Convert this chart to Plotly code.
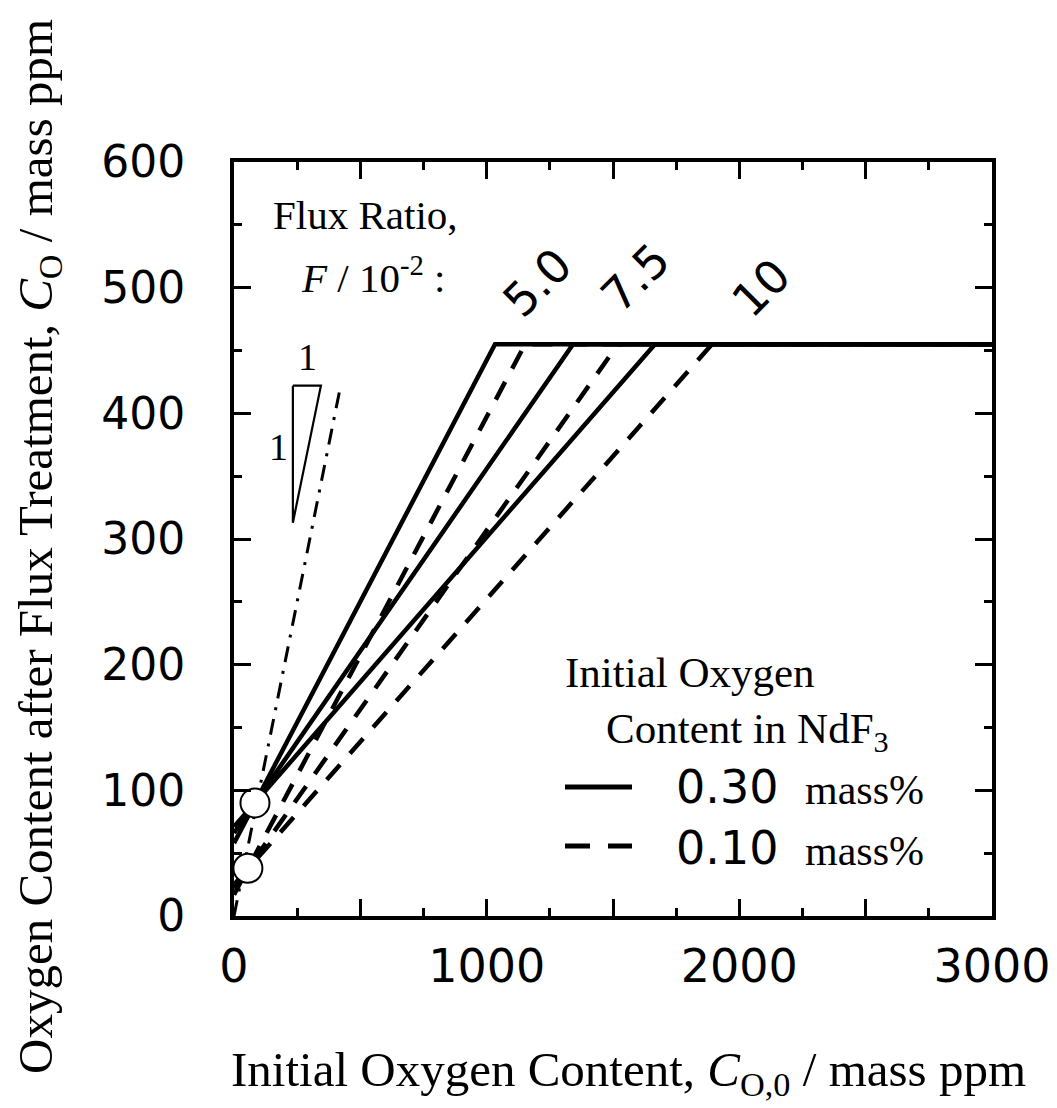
import plotly.graph_objects as go

# ---------------- data ----------------
flux_ratio_labels = ["5.0", "7.5", "10"]
solid_intercept = [58, 66, 71]          # 0.30 mass% NdF3, C_O at C_O,0 = 0
solid_break_x = [1033, 1342, 1666]      # where line reaches plateau
dashed_intercept = [17, 22, 25]         # 0.10 mass% NdF3
dashed_break_x = [1152, 1520, 1892]
plateau_value = 455
x_end = 3000
circle_x = [83, 55]
circle_y = [90, 38]
unity_x = [0, 420]
unity_y = [0, 420]
triangle_x = [233, 344, 233, 233]
triangle_y = [422, 422, 313, 422]

x_ticks = [0, 500, 1000, 1500, 2000, 2500, 3000]
x_ticktext = ["0", "", "1000", "", "2000", "", "3000"]
y_ticks = [0, 100, 200, 300, 400, 500, 600]
y_ticktext = ["0", "100", "200", "300", "400", "500", "600"]

SERIF = "Liberation Serif"
SANS = "DejaVu Sans"

# plot area in pixels
L, R, T, B = 234, 992, 162, 916
W, H = 1057, 1108


def X(px):
    return (px - L) / (R - L) * 3000


def Y(py):
    return (B - py) / (B - T) * 600


def PX(px):
    return (px - L) / (R - L)


def PY(py):
    return (B - py) / (B - T)


fig = go.Figure()

# slope-1 reference line
fig.add_trace(go.Scatter(x=unity_x, y=unity_y, mode="lines",
                         line=dict(color="black", width=3, dash="16px,9px,3px,9px"),
                         showlegend=False, hoverinfo="skip"))
# triangle
fig.add_trace(go.Scatter(x=triangle_x, y=triangle_y, mode="lines",
                         line=dict(color="black", width=2.2),
                         showlegend=False, hoverinfo="skip"))

for i, lab in enumerate(flux_ratio_labels):
    fig.add_trace(go.Scatter(
        x=[0, dashed_break_x[i], x_end],
        y=[dashed_intercept[i], plateau_value, plateau_value],
        mode="lines", line=dict(color="black", width=4.5, dash="20px,15px"),
        name=f"0.10 mass%, F={lab}", showlegend=False))
for i, lab in enumerate(flux_ratio_labels):
    fig.add_trace(go.Scatter(
        x=[0, solid_break_x[i], x_end],
        y=[solid_intercept[i], plateau_value, plateau_value],
        mode="lines", line=dict(color="black", width=4.5),
        name=f"0.30 mass%, F={lab}", showlegend=False))

fig.add_trace(go.Scatter(x=circle_x, y=circle_y, mode="markers",
                         marker=dict(size=29, color="white",
                                     line=dict(color="black", width=2)),
                         showlegend=False))

ann = []


def A(text, x, y, font, size, xanchor="center", yanchor="middle", angle=0,
      xref="x", yref="y"):
    ann.append(dict(text=text, x=x, y=y, xref=xref, yref=yref,
                    xanchor=xanchor, yanchor=yanchor, textangle=angle,
                    showarrow=False, font=dict(family=font, size=size, color="black")))


A("Flux Ratio,", X(271), Y(215), SERIF, 41, xanchor="left")
A("<i>F</i> / 10<sup>-2</sup> :", X(299), Y(275), SERIF, 41, xanchor="left")
A(flux_ratio_labels[0], X(537), Y(283), SANS, 46, angle=-45)
A(flux_ratio_labels[1], X(635), Y(278), SANS, 46, angle=-45)
A(flux_ratio_labels[2], X(761), Y(288), SANS, 46, angle=-45)
A("1", X(307), Y(357), SERIF, 38)
A("1", X(278), Y(447), SERIF, 38)
A("Initial Oxygen", X(563), Y(672), SERIF, 43, xanchor="left")
A("Content in NdF<sub>3</sub>", X(604), Y(732), SERIF, 43, xanchor="left")
A("0.30", X(674), Y(787), SANS, 46, xanchor="left")
A("mass%", X(803), Y(790), SERIF, 42, xanchor="left")
A("0.10", X(674), Y(848), SANS, 46, xanchor="left")
A("mass%", X(803), Y(851), SERIF, 42, xanchor="left")

A("Initial Oxygen Content, <i>C</i><sub>O,0</sub> / mass ppm", PX(628), PY(1072),
  SERIF, 49, xref="paper", yref="paper")
A("Oxygen Content after Flux Treatment, <i>C</i><sub>O</sub> / mass ppm", PX(38), PY(547),
  SERIF, 49, angle=-90, xref="paper", yref="paper")

shapes = [
    dict(type="line", xref="x", yref="y", x0=X(565), x1=X(632), y0=Y(787), y1=Y(787),
         line=dict(color="black", width=5)),
    dict(type="line", xref="x", yref="y", x0=X(565), x1=X(632), y0=Y(846), y1=Y(846),
         line=dict(color="black", width=5, dash="25px,18px")),
]

axis_common = dict(showline=True, linecolor="black", linewidth=4, mirror="ticks",
                   ticks="inside", ticklen=17, tickwidth=3, tickcolor="black",
                   showgrid=False, zeroline=False, ticklabeloverflow="allow")

fig.update_layout(
    width=W, height=H,
    margin=dict(l=L, r=W - R, t=T, b=H - B, autoexpand=False),
    paper_bgcolor="white", plot_bgcolor="white",
    showlegend=False,
    annotations=ann, shapes=shapes,
    xaxis=dict(range=[0, 3000], tickmode="array", tickvals=x_ticks, ticktext=x_ticktext,
               tickfont=dict(family=SANS, size=46, color="black"),
               ticklabelstandoff=7,
               minor=dict(dtick=250, ticks="inside", ticklen=8, tickwidth=3,
                          tickcolor="black", showgrid=False),
               **axis_common),
    yaxis=dict(range=[0, 600], tickmode="array", tickvals=y_ticks, ticktext=y_ticktext,
               tickfont=dict(family=SANS, size=44, color="black"),
               ticklabelstandoff=36,
               minor=dict(dtick=50, ticks="inside", ticklen=8, tickwidth=3,
                          tickcolor="black", showgrid=False),
               **axis_common),
)

fig.write_html("out.html")
